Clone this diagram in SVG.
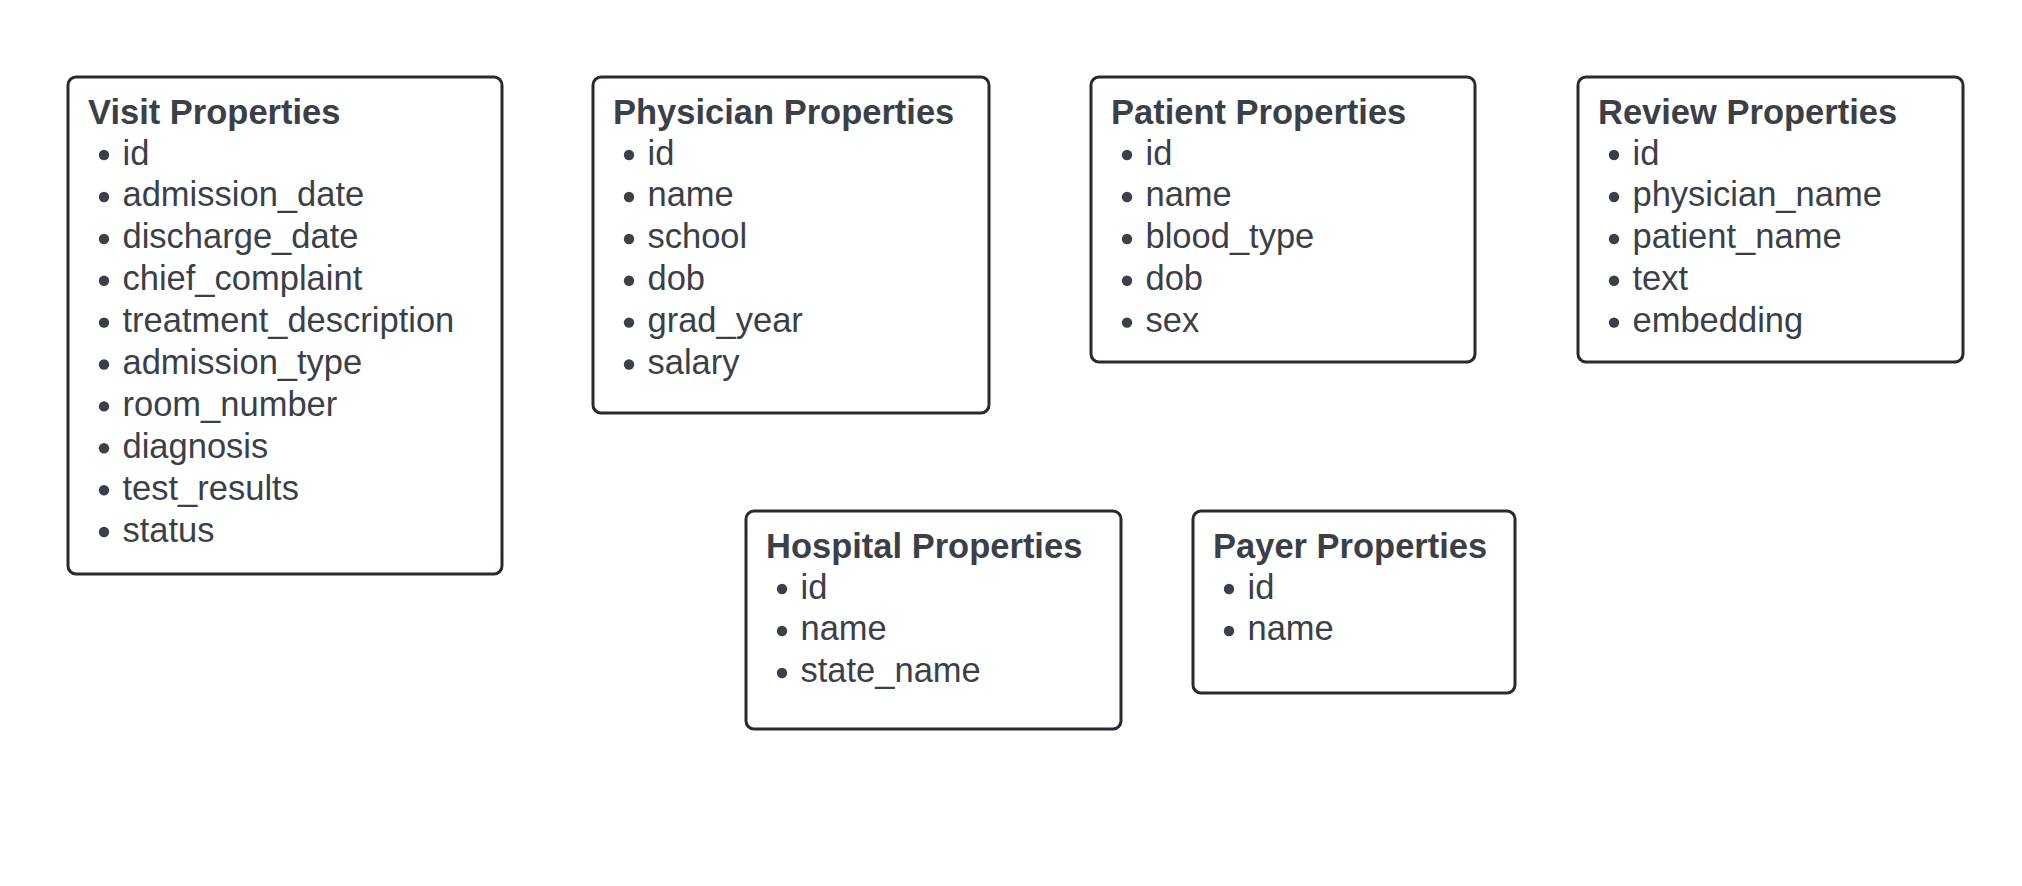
<svg xmlns="http://www.w3.org/2000/svg" width="2022" height="886" viewBox="0 0 2022 886">
<style>
.box{fill:#ffffff;stroke:#282a31;stroke-width:3}
.title{font-family:"Liberation Sans",Arial,sans-serif;font-weight:bold;font-size:34.5px;fill:#3b3f48}
.item{font-family:"Liberation Sans",Arial,sans-serif;font-size:34.5px;fill:#3b3f48}
.dot{fill:#3b3f48}
</style>
<rect width="2022" height="886" fill="#ffffff"/>
<g id="connectors"></g>
<g id="visit">
<rect class="box" x="68" y="77" width="434" height="497" rx="8"/>
<text class="title" x="88" y="124">Visit Properties</text>
<g class="dot"><circle cx="104" cy="155" r="5.2"/><circle cx="104" cy="197" r="5.2"/><circle cx="104" cy="239" r="5.2"/><circle cx="104" cy="280.7" r="5.2"/><circle cx="104" cy="322.6" r="5.2"/><circle cx="104" cy="364.5" r="5.2"/><circle cx="104" cy="406.4" r="5.2"/><circle cx="104" cy="448.3" r="5.2"/><circle cx="104" cy="490.2" r="5.2"/><circle cx="104" cy="532" r="5.2"/></g>
<text class="item" x="122.5" y="164.5">id</text>
<text class="item" x="122.5" y="206.4">admission_date</text>
<text class="item" x="122.5" y="248.3">discharge_date</text>
<text class="item" x="122.5" y="290.2">chief_complaint</text>
<text class="item" x="122.5" y="332.1">treatment_description</text>
<text class="item" x="122.5" y="374">admission_type</text>
<text class="item" x="122.5" y="415.9">room_number</text>
<text class="item" x="122.5" y="457.8">diagnosis</text>
<text class="item" x="122.5" y="499.7">test_results</text>
<text class="item" x="122.5" y="541.6">status</text>
</g>
<g id="physician">
<rect class="box" x="593" y="77" width="396" height="336" rx="8"/>
<text class="title" x="613" y="124">Physician Properties</text>
<g class="dot"><circle cx="629" cy="155" r="5.2"/><circle cx="629" cy="197" r="5.2"/><circle cx="629" cy="239" r="5.2"/><circle cx="629" cy="280.7" r="5.2"/><circle cx="629" cy="322.6" r="5.2"/><circle cx="629" cy="364.5" r="5.2"/></g>
<text class="item" x="647.5" y="164.5">id</text>
<text class="item" x="647.5" y="206.4">name</text>
<text class="item" x="647.5" y="248.3">school</text>
<text class="item" x="647.5" y="290.2">dob</text>
<text class="item" x="647.5" y="332.1">grad_year</text>
<text class="item" x="647.5" y="374">salary</text>
</g>
<g id="patient">
<rect class="box" x="1091" y="77" width="384" height="285" rx="8"/>
<text class="title" x="1111" y="124">Patient Properties</text>
<g class="dot"><circle cx="1127" cy="155" r="5.2"/><circle cx="1127" cy="197" r="5.2"/><circle cx="1127" cy="239" r="5.2"/><circle cx="1127" cy="280.7" r="5.2"/><circle cx="1127" cy="322.6" r="5.2"/></g>
<text class="item" x="1145.5" y="164.5">id</text>
<text class="item" x="1145.5" y="206.4">name</text>
<text class="item" x="1145.5" y="248.3">blood_type</text>
<text class="item" x="1145.5" y="290.2">dob</text>
<text class="item" x="1145.5" y="332.1">sex</text>
</g>
<g id="review">
<rect class="box" x="1578" y="77" width="385" height="285" rx="8"/>
<text class="title" x="1598" y="124">Review Properties</text>
<g class="dot"><circle cx="1614" cy="155" r="5.2"/><circle cx="1614" cy="197" r="5.2"/><circle cx="1614" cy="239" r="5.2"/><circle cx="1614" cy="280.7" r="5.2"/><circle cx="1614" cy="322.6" r="5.2"/></g>
<text class="item" x="1632.5" y="164.5">id</text>
<text class="item" x="1632.5" y="206.4">physician_name</text>
<text class="item" x="1632.5" y="248.3">patient_name</text>
<text class="item" x="1632.5" y="290.2">text</text>
<text class="item" x="1632.5" y="332.1">embedding</text>
</g>
<g id="hospital">
<rect class="box" x="746" y="511" width="375" height="218" rx="8"/>
<text class="title" x="766" y="558">Hospital Properties</text>
<g class="dot"><circle cx="782" cy="589" r="5.2"/><circle cx="782" cy="631" r="5.2"/><circle cx="782" cy="673" r="5.2"/></g>
<text class="item" x="800.5" y="598.5">id</text>
<text class="item" x="800.5" y="640.4">name</text>
<text class="item" x="800.5" y="682.3">state_name</text>
</g>
<g id="payer">
<rect class="box" x="1193" y="511" width="322" height="182" rx="8"/>
<text class="title" x="1213" y="558">Payer Properties</text>
<g class="dot"><circle cx="1229" cy="589" r="5.2"/><circle cx="1229" cy="631" r="5.2"/></g>
<text class="item" x="1247.5" y="598.5">id</text>
<text class="item" x="1247.5" y="640.4">name</text>
</g>
</svg>
